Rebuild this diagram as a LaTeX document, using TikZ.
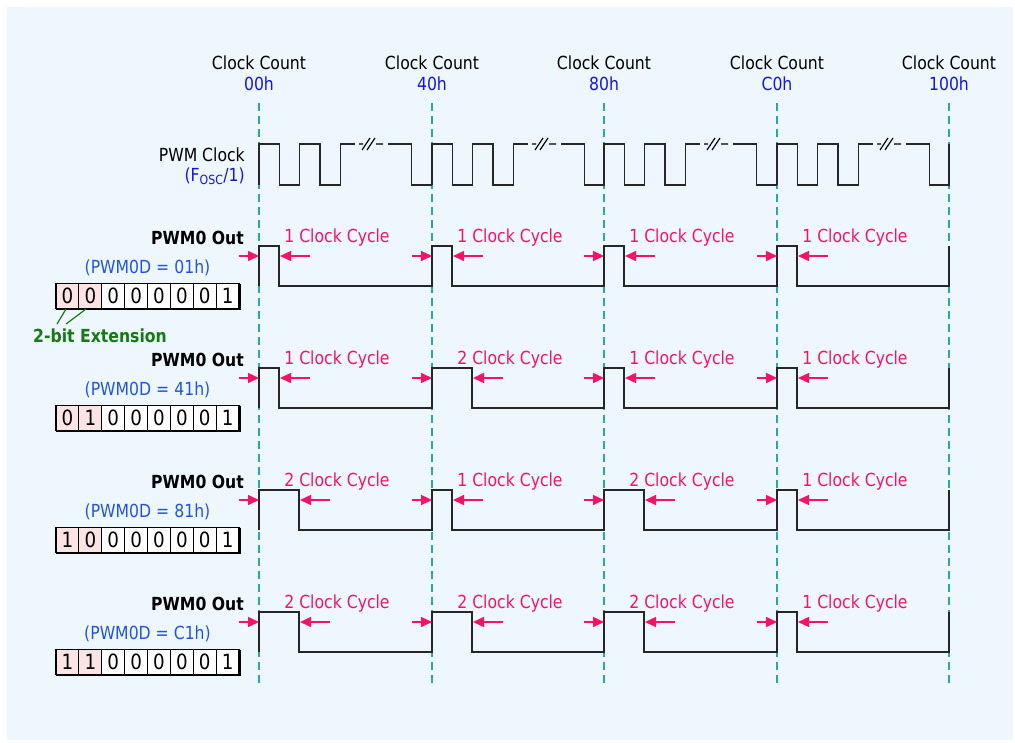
\documentclass[tikz,border=0pt]{standalone}
\usepackage{fontspec}
\setmainfont{DejaVu Sans}[FakeStretch=0.87]
\usetikzlibrary{arrows.meta}
\definecolor{panel}{HTML}{EEF7FD}
\definecolor{gridteal}{HTML}{2AA8A8}
\definecolor{pinkc}{HTML}{F5136A}
\definecolor{bluec}{HTML}{1414E6}
\definecolor{blueb}{HTML}{2255DD}
\definecolor{greenc}{HTML}{157A15}
\definecolor{cellpink}{HTML}{FCE4E4}
\tikzset{
  gridline/.style={gridteal, line width=1.4pt, dash pattern=on 8pt off 5pt},
  wave/.style={black!85, line width=1.5pt, line join=miter},
  arr/.style={pinkc, line width=1.5pt, -{Triangle[length=11pt,width=10pt]}},
  cyc/.style={pinkc, inner sep=0pt},
  lbl/.style={inner sep=0pt},
  cell/.style={draw=black, line width=1pt},
  digit/.style={inner sep=0pt, font=\fontsize{21}{24}\selectfont},
}
\begin{document}
\begin{tikzpicture}[x=1pt,y=-1pt, font=\fontsize{18}{21}\selectfont]
\useasboundingbox (0,0) rectangle (1015,742);
\fill[white] (0,0) rectangle (1015,742);
\fill[panel] (7,7) rectangle (1013,740);
% grid lines and top labels
\foreach \x/\lab [count=\i] in {259/00h,432/40h,604/80h,777/C0h,949/100h} {
  \node[lbl] (cc\i) at (\x,63) {Clock Count};
  \node[lbl, bluec] (hx\i) at (\x,84) {\lab};
  \coordinate (top\i) at (\x,103);
  \coordinate (bot\i) at (\x,685);
  \draw[gridline] (top\i) -- (bot\i);
}
% PWM clock
\node[lbl, anchor=east] (pwmclk) at (245,155) {PWM Clock};
\node[lbl, anchor=east, bluec] (fosc) at (245,176) {(F\textsubscript{OSC}/1)};
\foreach \sx in {259,432,604,777} {
  \draw[wave] (\sx,185) -- (\sx,144) -- (\sx+20.3,144) -- (\sx+20.3,185) -- (\sx+40.6,185) -- (\sx+40.6,144)
     -- (\sx+61,144) -- (\sx+61,185) -- (\sx+81.5,185) -- (\sx+81.5,144) -- (\sx+96,144);
  \draw[wave] (\sx+129,144) -- (\sx+152.5,144) -- (\sx+152.5,185) -- (\sx+172.5,185);
  \draw[black, line width=1.2pt] (\sx+100,144) -- (\sx+104,144) (\sx+117,144) -- (\sx+124,144)
     (\sx+103,150) -- (\sx+111,138) (\sx+108,150) -- (\sx+116,138);
}
\draw[wave] (949,185) -- (949,144);
% PWM0 rows
\foreach \r/\val/\bA/\bB/\wwa/\wwb/\wwc/\wwd in {0/01h/0/0/1/1/1/1, 1/41h/0/1/1/2/1/1, 2/81h/1/0/2/1/2/1, 3/C1h/1/1/2/2/2/1} {
  \pgfmathsetmacro{\yH}{246+122*\r}
  \pgfmathsetmacro{\yL}{\yH+40}
  \pgfmathsetmacro{\xA}{259+20*\wwa}
  \pgfmathsetmacro{\xB}{432+20*\wwb}
  \pgfmathsetmacro{\xC}{604+20*\wwc}
  \pgfmathsetmacro{\xD}{777+20*\wwd}
  \draw[wave] (259,\yL) -- (259,\yH) -- (\xA,\yH) -- (\xA,\yL) -- (432,\yL) -- (432,\yH) -- (\xB,\yH) -- (\xB,\yL)
    -- (604,\yL) -- (604,\yH) -- (\xC,\yH) -- (\xC,\yL) -- (777,\yL) -- (777,\yH) -- (\xD,\yH) -- (\xD,\yL)
    -- (949,\yL) -- (949,\yH);
  \foreach \sx/\ww in {259/\wwa, 432/\wwb, 604/\wwc, 777/\wwd} {
    \node[cyc] at (\sx+78,\yH-8) {\ww\ Clock Cycle};
    \draw[arr] (\sx-20,\yH+10) -- (\sx,\yH+10);
    \draw[arr] (\sx+20*\ww+31,\yH+10) -- (\sx+20*\ww+1,\yH+10);
  }
  \node[lbl, anchor=east, font=\fontsize{18}{21}\selectfont\bfseries] (out\r) at (244,\yH-8) {PWM0 Out};
  \node[lbl, blueb] (pd\r) at (147.5,\yH+22) {(PWM0D = \val)};
  \pgfmathsetmacro{\yT}{\yH+37.5}
  \pgfmathsetmacro{\yB}{\yH+62.5}
  \foreach \c/\dg in {0/\bA,1/\bB,2/0,3/0,4/0,5/0,6/0,7/1} {
    \pgfmathsetmacro{\xl}{56+22.875*\c}
    \ifnum\c<2
      \fill[cellpink] (\xl,\yT) rectangle (\xl+22.875,\yB);
    \else
      \fill[white] (\xl,\yT) rectangle (\xl+22.875,\yB);
    \fi
    \draw[cell] (\xl,\yT) rectangle (\xl+22.875,\yB);
    \node[digit] at (\xl+11.44,\yT+12.5) {\dg};
  }
  \draw[black, line width=1.3pt] (56,\yT) rectangle (239,\yB);
  \draw[black, line width=1.8pt] (240,\yT) -- (240,\yB+1) -- (56,\yB+1);
}
% 2-bit extension
\node[lbl, greenc, font=\fontsize{18}{21}\selectfont\bfseries] (ext) at (100,336) {2-bit Extension};
\draw[greenc, line width=1.2pt] (66,309) -- (57,324);
\draw[greenc, line width=1.2pt] (86,309) -- (66,324);
\end{tikzpicture}
\end{document}
